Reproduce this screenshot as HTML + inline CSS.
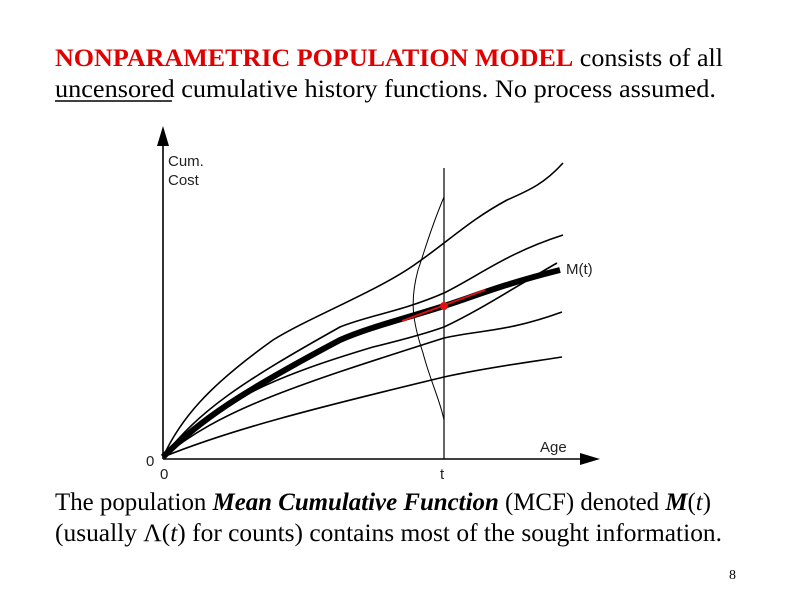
<!DOCTYPE html>
<html><head><meta charset="utf-8"><style>
html,body{margin:0;padding:0;background:#fff;}
svg{display:block;}
.t{font-family:"Liberation Serif",serif;font-size:25px;fill:#000;}
.s{font-family:"Liberation Sans",sans-serif;font-size:15px;fill:#222;}
</style></head><body>
<svg width="792" height="612" viewBox="0 0 792 612" xmlns="http://www.w3.org/2000/svg">
<text class="t" x="55" y="66" textLength="668" lengthAdjust="spacingAndGlyphs"><tspan fill="#e00000" font-weight="bold">NONPARAMETRIC POPULATION MODEL</tspan> consists of all</text>
<text class="t" x="55" y="97" textLength="661" lengthAdjust="spacingAndGlyphs">uncensored cumulative history functions.  No process assumed.</text>
<line x1="55" y1="101" x2="172" y2="101" stroke="#000" stroke-width="1.5"/>
<text class="t" x="55" y="510" textLength="656" lengthAdjust="spacingAndGlyphs">The population <tspan font-weight="bold" font-style="italic">Mean Cumulative Function</tspan> (MCF) denoted <tspan font-weight="bold" font-style="italic">M</tspan>(<tspan font-style="italic">t</tspan>)</text>
<text class="t" x="55" y="541" textLength="667" lengthAdjust="spacingAndGlyphs">(usually Λ(<tspan font-style="italic">t</tspan>) for counts) contains most of the sought information.</text>
<text x="729" y="579" font-family="Liberation Serif,serif" font-size="14" fill="#000">8</text>
<g fill="none" stroke="#000" stroke-width="1.6">
<line x1="163" y1="459" x2="163" y2="138"/>
<line x1="163" y1="459" x2="585" y2="459"/>
<line x1="444" y1="168" x2="444" y2="459" stroke-width="1.2"/>
<path d="M163,457 C180,420 207,387 273,340 C310,317 380,290 417,263 C450,240 470,220 507,200 C530,190 545,183 563,163"/>
<path d="M163,457 C200,410 240,383 340,327 C370,315 400,312 444,293 C480,275 507,253 563,235"/>
<path d="M163,457 C220,400 273,377 373,347 C410,338 430,332 444,327 C480,310 510,290 557,263"/>
<path d="M163,457 C220,410 290,387 444,338 C480,330 507,332 562,312"/>
<path d="M163,457 C230,430 307,410 444,377 C490,367 530,362 562,357"/>
<path d="M444,197 C430,230 425,250 418,270 C410,300 412,320 423,353 C430,380 440,400 444,420" stroke-width="1"/>
<path d="M163,457 C200,420 240,393 340,340 C370,327 400,320 444,306 C470,298 500,285 560,270" stroke-width="6"/>
</g>
<polygon fill="#000" points="163,126 157,146 169,146"/>
<polygon fill="#000" points="600,459 580,453 580,465"/>
<line x1="402" y1="321" x2="485" y2="290" stroke="#e01010" stroke-width="2"/>
<circle cx="444" cy="306" r="4" fill="#e01010"/>
<text class="s" x="168" y="166">Cum.</text>
<text class="s" x="168" y="185">Cost</text>
<text class="s" x="540" y="452">Age</text>
<text class="s" x="566" y="274">M(t)</text>
<text class="s" x="146" y="466">0</text>
<text class="s" x="160" y="479">0</text>
<text class="s" x="440" y="479">t</text>
</svg>
</body></html>
